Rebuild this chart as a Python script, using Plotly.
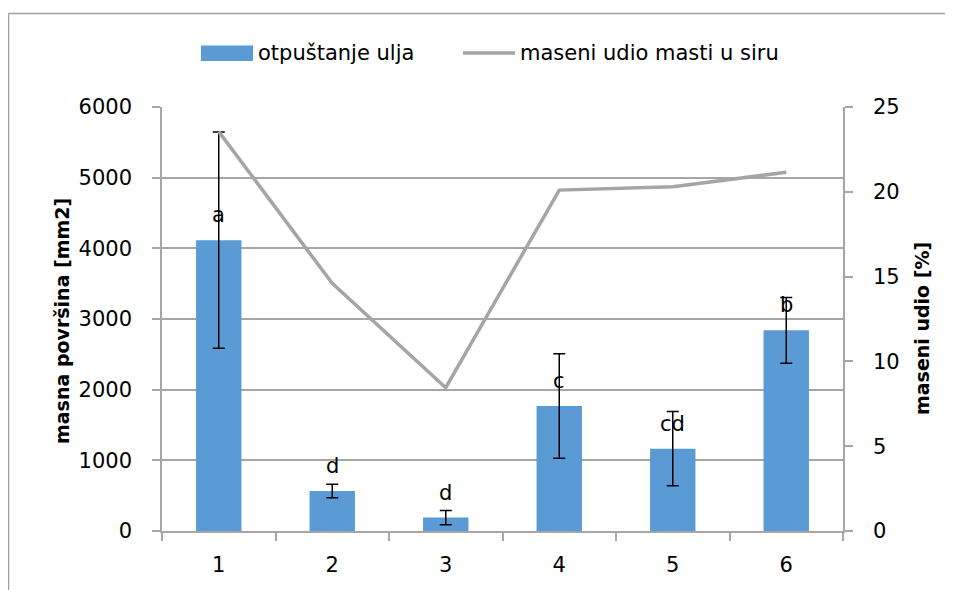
import plotly.graph_objects as go

# ---- data ----
categories = [1, 2, 3, 4, 5, 6]
oil_release = [4115, 565, 190, 1770, 1165, 2840]          # masna površina [mm2]
oil_error = [1530, 95, 100, 740, 525, 465]
fat_content = [23.55, 14.6, 8.45, 20.1, 20.3, 21.15]       # maseni udio [%]
letters = ["a", "d", "d", "c", "cd", "b"]
left_ticks = [0, 1000, 2000, 3000, 4000, 5000, 6000]
right_ticks = [0, 5, 10, 15, 20, 25]
series_names = ["otpuštanje ulja", "maseni udio masti u siru"]

FONT = "DejaVu Sans"
BAR_COLOR = "#5B9BD5"
LINE_COLOR = "#A5A5A5"
GRID = "#A6A6A6"

W, H = 953, 590
OFF = 8  # page body margin
L, R, T, B = 162 - OFF, 843 - OFF, 107 - OFF, 531 - OFF


def px(x):
    return (x - OFF - L) / (R - L)


def py(y):
    return (B - (y - OFF)) / (B - T)


fig = go.Figure()
fig.add_trace(go.Bar(
    x=categories, y=oil_release, name=series_names[0],
    marker=dict(color=BAR_COLOR, line=dict(width=0)),
    width=0.4,
    error_y=dict(type="data", array=oil_error, visible=True,
                 color="black", thickness=1.5, width=6),
    showlegend=False,
))
fig.add_trace(go.Scatter(
    x=categories, y=fat_content, name=series_names[1], yaxis="y2",
    mode="lines", line=dict(color=LINE_COLOR, width=3.5),
    showlegend=False,
))

annotations = []
for c, v, t in zip(categories, oil_release, letters):
    annotations.append(dict(x=c, y=v, xref="x", yref="y", text=t,
                            showarrow=False, yanchor="bottom", yshift=11,
                            font=dict(family=FONT, size=21, color="black")))

# axis titles
annotations.append(dict(x=px(62), y=py(321), xref="paper", yref="paper",
                        text="<b>masna površina [mm2]</b>", textangle=-90,
                        showarrow=False, xanchor="center", yanchor="middle",
                        font=dict(family=FONT, size=19, color="black")))
annotations.append(dict(x=px(922), y=py(329), xref="paper", yref="paper",
                        text="<b>maseni udio [%]</b>", textangle=-90,
                        showarrow=False, xanchor="center", yanchor="middle",
                        font=dict(family=FONT, size=19, color="black")))
# legend texts
annotations.append(dict(x=px(256), y=py(53), xref="paper", yref="paper",
                        text=series_names[0], showarrow=False,
                        xanchor="left", yanchor="middle",
                        font=dict(family=FONT, size=21, color="black")))
annotations.append(dict(x=px(518), y=py(53), xref="paper", yref="paper",
                        text=series_names[1], showarrow=False,
                        xanchor="left", yanchor="middle",
                        font=dict(family=FONT, size=21, color="black")))

shapes = [
    # legend symbols
    dict(type="rect", xref="paper", yref="paper", x0=px(201), x1=px(253),
         y0=py(61), y1=py(45.5), fillcolor=BAR_COLOR, line=dict(width=0)),
    dict(type="line", xref="paper", yref="paper", x0=px(463), x1=px(515),
         y0=py(53), y1=py(53), line=dict(color=LINE_COLOR, width=3.5)),
    # chart border
    dict(type="line", xref="paper", yref="paper", x0=px(8.5), x1=px(960),
         y0=py(13.5), y1=py(13.5), line=dict(color="#A0A0A0", width=1.5)),
    dict(type="line", xref="paper", yref="paper", x0=px(8.5), x1=px(8.5),
         y0=py(13.5), y1=py(600), line=dict(color="#A0A0A0", width=1.5)),
]

fig.update_layout(
    width=W, height=H,
    margin=dict(l=L, r=W - R, t=T, b=H - B, pad=0),
    paper_bgcolor="white", plot_bgcolor="white",
    font=dict(family=FONT, size=21, color="black"),
    annotations=annotations,
    shapes=shapes,
    xaxis=dict(
        range=[0.5, 6.5], tickmode="array", tickvals=categories,
        ticktext=[str(c) for c in categories],
        ticks="", showgrid=False, zeroline=False,
        showline=True, linecolor=GRID, linewidth=1.5,
        ticklabelstandoff=14,
        minor=dict(tickmode="array", tickvals=[0.5, 1.5, 2.5, 3.5, 4.5, 5.5, 6.5],
                   ticks="outside", ticklen=8, tickcolor=GRID, tickwidth=1.5,
                   showgrid=False),
        tickfont=dict(family=FONT, size=21, color="black"),
    ),
    yaxis=dict(
        range=[0, 6000], tickmode="array", tickvals=left_ticks,
        showgrid=True, gridcolor=GRID, gridwidth=1.5, zeroline=False,
        showline=True, linecolor=GRID, linewidth=1.5,
        ticks="outside", ticklen=8, tickcolor=GRID, tickwidth=1.5,
        ticklabelstandoff=16,
        tickfont=dict(family=FONT, size=21, color="black"),
    ),
    yaxis2=dict(
        range=[0, 25], tickmode="array", tickvals=right_ticks,
        overlaying="y", side="right",
        showgrid=False, zeroline=False,
        showline=True, linecolor=GRID, linewidth=1.5,
        ticks="outside", ticklen=8, tickcolor=GRID, tickwidth=1.5,
        ticklabelstandoff=16,
        tickfont=dict(family=FONT, size=21, color="black"),
    ),
)

fig.write_html("out.html")
